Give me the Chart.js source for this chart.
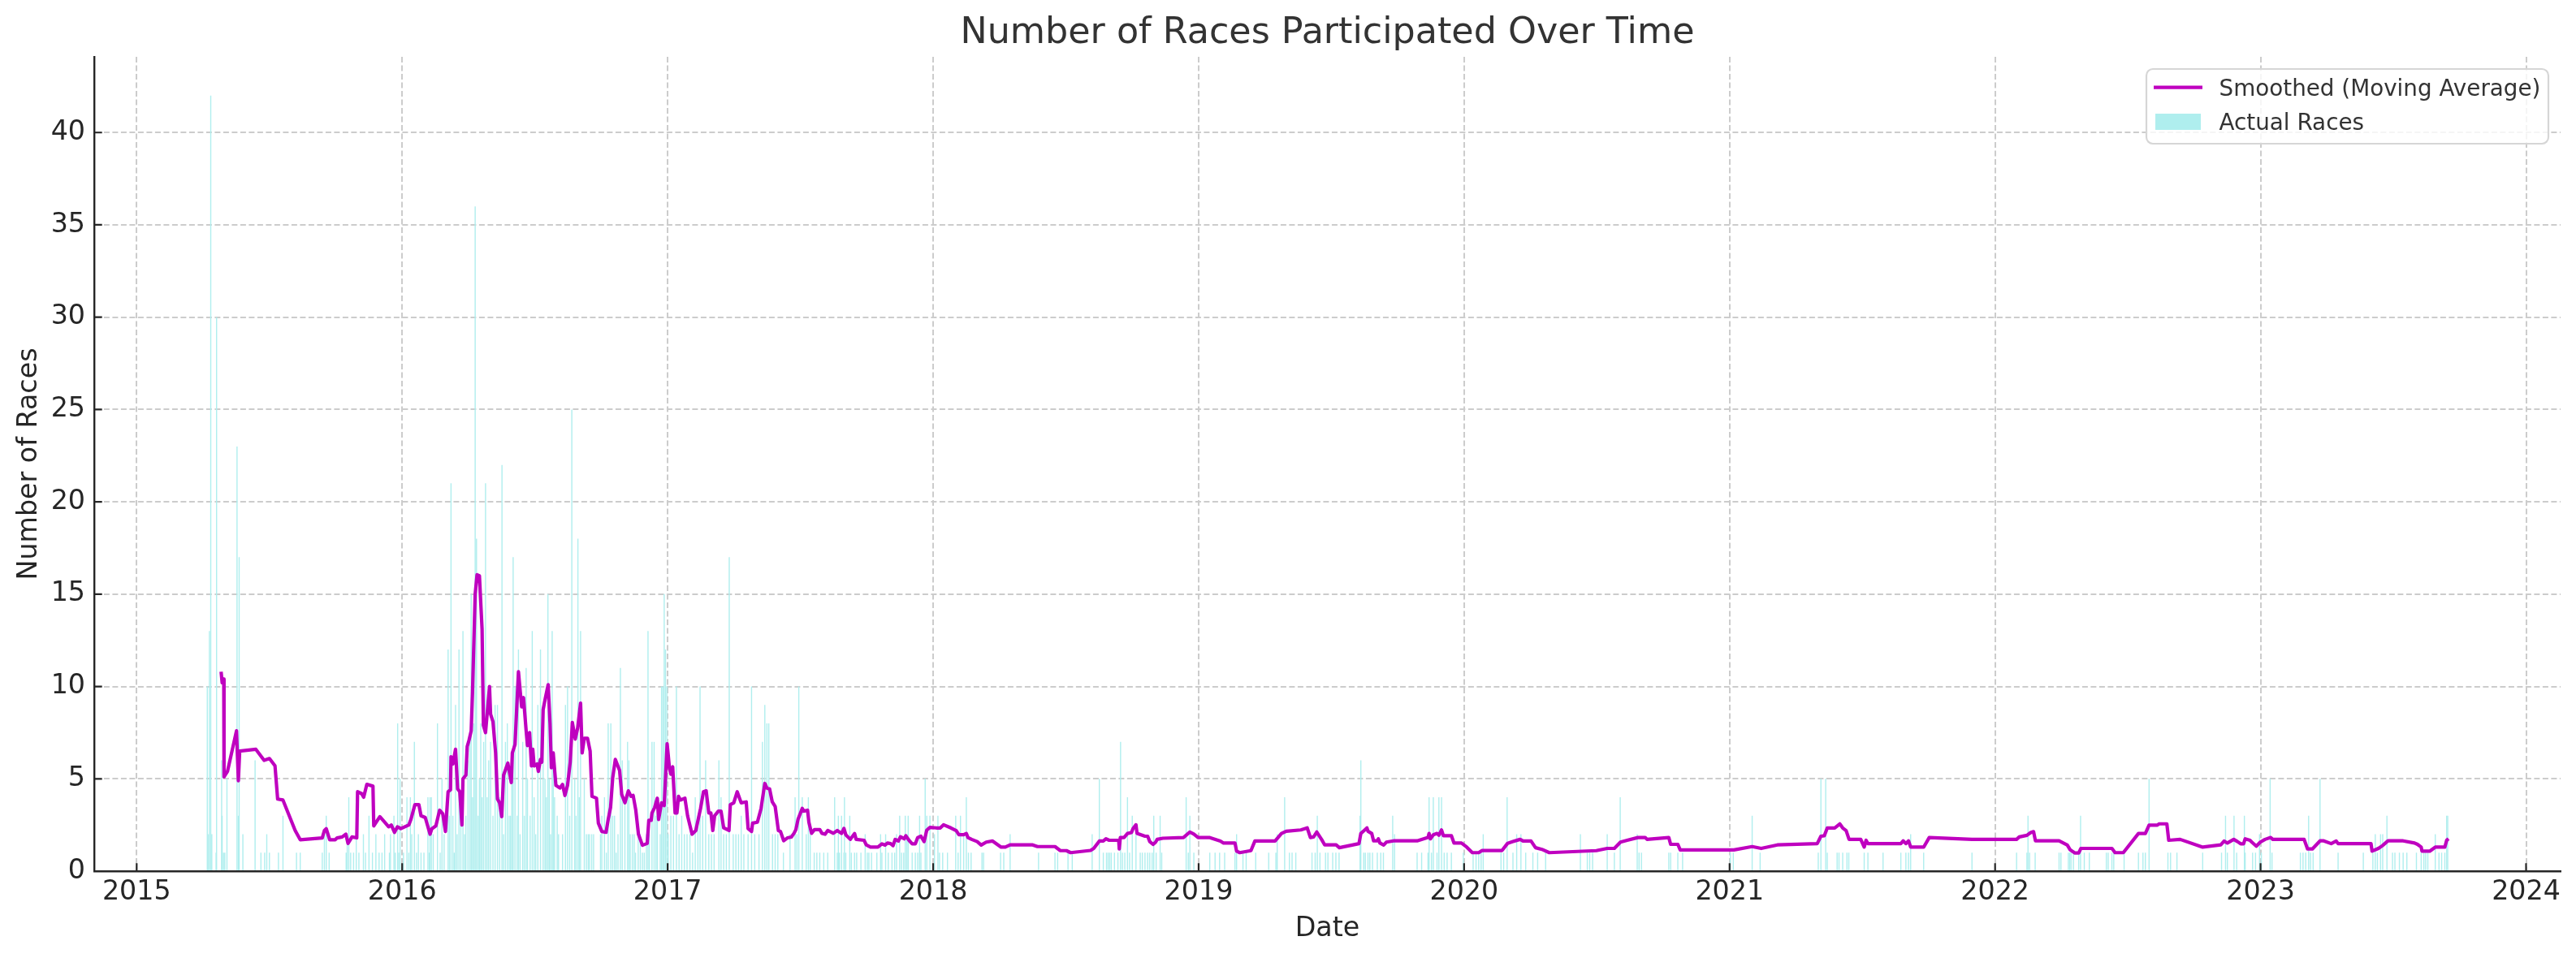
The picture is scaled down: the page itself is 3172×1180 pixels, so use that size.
<!DOCTYPE html>
<html>
<head>
<meta charset="utf-8">
<script src="https://cdn.jsdelivr.net/npm/chart.js@4.4.1/dist/chart.umd.min.js"></script>
<style>
  html, body { margin: 0; padding: 0; background: #ffffff; }
  #wrap { width: 3172px; height: 1180px; }
  canvas { display: block; }
</style>
</head>
<body>
<div id="wrap"><canvas id="c" width="3172" height="1180"></canvas></div>
<script>
// ---------------- DATA ----------------
const chartTitle = 'Number of Races Participated Over Time';
const xAxisLabel = 'Date';
const yAxisLabel = 'Number of Races';
const seriesLabels = ['Smoothed (Moving Average)', 'Actual Races'];

const xTickYears = [2015, 2016, 2017, 2018, 2019, 2020, 2021, 2022, 2023, 2024];
const yTickValues = [0, 5, 10, 15, 20, 25, 30, 35, 40];

// race days (decimal year) and number of races that day
const raceDates = [
  2015.266,2015.271,2015.274,2015.279,2015.283,2015.299,2015.301,2015.320,2015.322,2015.327,
  2015.332,2015.340,2015.378,2015.383,2015.386,2015.400,2015.446,2015.468,2015.482,2015.490,
  2015.500,2015.534,2015.551,2015.602,2015.616,2015.699,2015.707,2015.714,2015.725,2015.789,
  2015.793,2015.799,2015.806,2015.817,2015.827,2015.837,2015.854,2015.862,2015.875,2015.888,
  2015.901,2015.913,2015.924,2015.934,2015.952,2015.956,2015.969,2015.974,2015.983,2015.987,
  2015.992,2016.005,2016.018,2016.025,2016.031,2016.036,2016.046,2016.054,2016.061,2016.071,
  2016.082,2016.097,2016.102,2016.105,2016.110,2016.117,2016.133,2016.143,2016.150,2016.158,
  2016.173,2016.178,2016.184,2016.191,2016.196,2016.201,2016.207,2016.214,2016.221,2016.229,
  2016.235,2016.240,2016.248,2016.255,2016.260,2016.265,2016.270,2016.275,2016.280,2016.286,
  2016.291,2016.296,2016.301,2016.307,2016.314,2016.320,2016.326,2016.333,2016.342,2016.350,
  2016.359,2016.367,2016.376,2016.382,2016.389,2016.396,2016.403,2016.408,2016.413,2016.418,
  2016.425,2016.433,2016.438,
  2016.444,2016.454,2016.460,2016.467,2016.472,2016.482,2016.490,2016.497,2016.503,2016.511,
  2016.521,2016.531,2016.538,2016.543,2016.549,2016.554,2016.559,2016.565,2016.569,2016.574,
  2016.584,2016.589,2016.604,2016.615,2016.623,2016.631,2016.639,2016.650,2016.655,2016.662,
  2016.667,2016.672,2016.686,2016.694,2016.701,2016.706,2016.714,2016.721,2016.747,2016.752,
  2016.762,2016.769,2016.776,2016.786,2016.793,2016.800,2016.806,2016.813,2016.822,2016.829,
  2016.839,2016.849,2016.854,2016.859,2016.867,2016.874,2016.879,2016.889,2016.897,2016.905,
  2016.912,2016.920,2016.926,2016.931,2016.941,2016.949,2016.956,2016.961,2016.972,2016.977,
  2016.982,2016.987,2016.992,2016.997,2017.002,2017.012,2017.022,2017.033,2017.043,2017.053,
  2017.063,2017.073,2017.084,2017.094,2017.104,2017.114,2017.122,2017.132,2017.143,2017.155,
  2017.165,2017.175,2017.193,2017.201,2017.211,2017.221,2017.232,2017.247,2017.257,2017.267,
  2017.277,2017.287,2017.303,2017.316,2017.328,2017.344,2017.357,2017.366,2017.374,2017.381,
  2017.395,2017.405,2017.415,2017.436,2017.461,2017.480,2017.487,2017.494,2017.507,2017.522,
  2017.530,2017.537,2017.552,2017.562,2017.573,2017.588,2017.603,2017.629,2017.639,
  2017.643,2017.647,2017.655,2017.664,2017.666,2017.671,2017.686,2017.692,2017.704,2017.712,
  2017.728,2017.744,2017.752,2017.758,2017.768,2017.788,2017.802,2017.807,2017.821,2017.831,
  2017.845,2017.855,2017.862,2017.874,2017.881,2017.889,2017.895,2017.901,2017.906,2017.921,
  2017.933,2017.942,2017.949,2017.954,2017.970,2017.976,2017.988,2018.005,2018.018,2018.024,
  2018.036,2018.054,2018.085,2018.094,2018.103,2018.115,2018.125,2018.133,2018.143,2018.184,
  2018.190,2018.254,2018.266,2018.290,2018.397,2018.459,2018.469,2018.508,2018.524,2018.599,
  2018.626,2018.641,2018.653,2018.659,2018.665,2018.671,2018.683,2018.696,2018.706,2018.713,
  2018.722,2018.732,2018.740,2018.750,2018.764,2018.780,2018.788,2018.798,2018.808,2018.816,
  2018.825,2018.831,2018.840,2018.855,2018.861,2018.953,2018.961,2018.967,2018.982,2019.042,
  2019.062,2019.079,2019.098,2019.137,2019.143,2019.167,2019.179,2019.215,2019.264,2019.291,
  2019.296,2019.324,2019.342,2019.352,2019.366,2019.427,2019.439,2019.447,2019.457,2019.478,
  2019.487,2019.505,2019.517,
  2019.529,2019.608,2019.611,2019.622,2019.628,2019.638,2019.645,2019.655,2019.673,2019.686,
  2019.696,2019.731,2019.738,2019.823,2019.840,2019.864,2019.868,2019.877,2019.884,2019.898,
  2019.905,2019.915,2019.925,2019.936,2019.952,2019.997,2020.034,2020.045,2020.055,2020.064,
  2020.072,2020.139,2020.149,2020.162,2020.184,2020.198,2020.214,2020.232,2020.259,2020.277,
  2020.307,2020.438,2020.464,2020.473,2020.484,2020.539,2020.566,2020.588,2020.652,2020.659,
  2020.668,2020.771,2020.778,2020.805,2020.823,2021.003,2021.014,2021.085,2021.115,2021.334,
  2021.344,2021.362,2021.368,2021.405,2021.412,2021.426,2021.442,2021.449,2021.507,2021.521,
  2021.578,
  2021.645,2021.664,2021.674,2021.682,2021.731,2021.913,2022.081,2022.120,2022.124,2022.130,
  2022.151,2022.241,2022.248,2022.276,2022.281,2022.286,2022.295,2022.315,2022.322,2022.336,
  2022.355,2022.419,2022.426,2022.440,2022.447,2022.486,2022.540,2022.557,2022.566,2022.580,
  2022.651,2022.661,2022.685,2022.782,2022.853,2022.868,2022.875,2022.900,2022.910,2022.939,
  2022.942,2022.970,2022.981,2022.996,2023.003,2023.036,2023.043,2023.150,2023.160,2023.170,
  2023.181,2023.188,2023.198,2023.224,2023.292,2023.387,2023.423,2023.432,2023.440,2023.452,
  2023.460,2023.476,2023.497,2023.506,2023.523,2023.537,2023.551,2023.587,2023.605,2023.615,
  2023.622,2023.630,2023.658,2023.672,2023.682,2023.694,2023.701,2023.705
];
const raceCounts = [
  10,2,13,42,2,1,30,6,3,1,
  1,5,23,3,17,2,6,1,1,2,
  1,1,3,1,1,1,2,3,1,1,
  2,4,1,1,2,1,2,1,3,1,
  2,1,1,2,1,2,3,1,8,1,
  5,1,4,1,4,2,7,1,2,1,
  1,4,1,4,4,2,8,1,5,2,
  12,3,21,3,1,9,2,12,4,13,
  2,3,6,7,15,4,8,36,18,3,
  5,8,4,7,21,4,6,7,3,9,
  9,4,22,2,7,8,3,3,5,17,
  10,3,12,
  2,7,3,11,5,3,13,4,2,9,
  12,7,5,4,15,5,2,13,6,4,
  3,2,2,9,10,3,25,5,3,18,
  4,13,5,2,2,2,2,2,2,3,
  4,1,8,8,3,3,1,2,11,6,
  4,7,6,2,2,2,1,2,2,1,
  1,2,13,2,7,7,3,4,2,10,
  10,15,12,10,2,3,3,10,2,3,
  2,2,2,1,4,3,10,3,6,2,
  2,2,6,4,2,2,17,2,2,2,
  3,2,2,10,2,2,7,9,8,8,
  2,2,2,1,2,4,2,10,4,2,
  4,2,1,1,1,1,1,4,1,
  3,1,3,1,4,1,3,1,1,1,
  1,2,1,1,1,1,2,1,2,1,
  1,1,2,3,1,1,3,2,3,1,
  1,1,3,1,5,3,3,2,3,1,
  1,1,3,1,3,2,4,1,1,1,
  1,1,1,2,1,1,1,1,1,2,
  5,1,1,1,1,1,1,1,7,1,
  1,4,1,3,2,1,1,1,1,1,
  1,3,1,3,1,4,1,3,1,1,
  1,1,1,1,2,1,1,1,1,1,
  2,4,1,1,1,1,1,3,1,1,
  1,1,1,
  1,3,6,1,1,1,1,1,1,1,
  1,3,2,1,1,1,4,1,4,1,
  4,4,1,1,1,1,1,1,1,1,
  2,1,1,4,1,2,2,1,1,1,
  1,2,1,1,1,2,1,4,2,1,
  1,1,1,1,1,1,1,3,1,1,
  5,5,1,1,1,1,1,1,1,1,
  1,
  1,1,1,2,1,1,1,1,3,1,
  1,1,1,1,1,1,1,1,3,1,
  1,1,1,1,1,1,1,1,1,5,
  1,1,1,1,1,3,1,3,1,3,
  1,1,1,2,1,5,1,1,1,1,
  3,1,1,5,1,1,1,2,1,2,
  2,3,1,1,1,1,1,1,1,1,
  1,1,2,1,1,1,3,3
];

// moving-average curve (decimal year, value)
const smoothDates = [
  2015.318,2015.322,2015.328,2015.329,2015.342,2015.376,2015.383,2015.388,2015.449,2015.480,
  2015.500,2015.521,2015.531,2015.551,2015.597,2015.616,2015.699,2015.707,2015.714,2015.727,
  2015.748,2015.755,2015.774,2015.788,2015.796,2015.811,2015.829,2015.832,2015.847,2015.855,
  2015.867,2015.890,2015.893,2015.916,2015.934,2015.949,2015.959,2015.971,2015.982,2015.995,
  2016.025,2016.033,2016.048,2016.063,2016.071,2016.087,2016.105,2016.112,2016.127,2016.141,
  2016.153,2016.163,2016.173,2016.182,2016.184,2016.191,2016.201,2016.209,2016.217,2016.225,
  2016.229,2016.240,2016.245,2016.252,2016.260,2016.265,2016.275,2016.282,2016.291,2016.301,
  2016.306,2016.314,2016.329,2016.333,2016.342,2016.352,2016.359,2016.367,2016.375,2016.382,
  2016.398,2016.411,2016.415,2016.425,2016.438,
  2016.450,2016.457,2016.467,2016.472,2016.480,2016.487,2016.492,2016.497,2016.508,2016.513,
  2016.521,2016.526,2016.531,2016.539,2016.550,2016.557,2016.562,2016.569,2016.579,2016.594,
  2016.604,2016.613,2016.623,2016.633,2016.641,2016.652,2016.661,2016.672,2016.678,2016.686,
  2016.698,2016.708,2016.715,2016.732,2016.739,2016.752,2016.768,2016.776,2016.785,2016.793,
  2016.803,2016.819,2016.827,2016.839,2016.852,2016.862,2016.870,2016.880,2016.890,2016.905,
  2016.923,2016.929,2016.938,2016.941,2016.951,2016.961,2016.966,2016.977,2016.987,2016.998,
  2017.007,2017.012,2017.019,2017.028,2017.035,2017.041,2017.048,2017.065,2017.075,2017.092,
  2017.106,2017.124,2017.135,2017.145,2017.155,2017.163,2017.170,2017.177,2017.191,2017.201,
  2017.211,2017.231,2017.236,2017.249,2017.262,2017.277,2017.296,2017.303,2017.316,2017.320,
  2017.338,2017.352,2017.357,2017.366,2017.374,2017.384,2017.394,2017.405,2017.417,2017.425,
  2017.437,2017.451,2017.466,2017.476,2017.483,2017.491,2017.507,2017.512,2017.527,2017.532,
  2017.542,2017.553,2017.573,2017.581,2017.593,2017.603,2017.624,2017.639,
  2017.655,2017.664,2017.671,2017.688,2017.704,2017.710,2017.740,2017.748,2017.764,2017.792,
  2017.807,2017.819,2017.828,2017.840,2017.849,2017.857,2017.869,2017.877,2017.891,2017.897,
  2017.909,2017.921,2017.933,2017.942,2017.954,2017.966,2017.976,2017.988,2018.012,2018.027,
  2018.039,2018.067,2018.087,2018.097,2018.115,2018.125,2018.131,2018.145,2018.166,2018.181,
  2018.200,2018.224,2018.256,2018.272,2018.290,2018.375,2018.393,2018.459,2018.478,2018.502,
  2018.518,2018.593,2018.605,2018.626,2018.641,2018.651,2018.663,2018.699,2018.701,2018.705,
  2018.719,2018.732,2018.747,2018.753,2018.764,2018.768,2018.798,2018.808,2018.816,2018.828,
  2018.838,2018.844,2018.865,2018.943,2018.967,2018.982,2018.998,2019.040,2019.082,2019.094,
  2019.137,2019.143,2019.155,2019.197,2019.212,2019.288,2019.312,2019.330,2019.385,2019.409,
  2019.421,2019.433,2019.445,2019.463,2019.475,2019.518,2019.530,
  2019.604,2019.611,2019.625,2019.634,2019.638,2019.652,2019.659,2019.673,2019.677,2019.683,
  2019.697,2019.707,2019.734,2019.823,2019.864,2019.868,2019.873,2019.884,2019.898,2019.905,
  2019.915,2019.922,2019.952,2019.962,2019.990,2020.010,2020.031,2020.055,2020.068,2020.143,
  2020.164,2020.184,2020.211,2020.222,2020.252,2020.269,2020.293,2020.321,2020.498,2020.539,
  2020.566,2020.589,2020.614,2020.655,2020.682,2020.689,2020.771,2020.778,2020.805,2020.814,
  2021.016,2021.085,2021.119,2021.180,2021.330,2021.344,2021.357,2021.368,2021.396,2021.415,
  2021.426,2021.439,2021.450,2021.494,2021.507,2021.514,2021.521,
  2021.645,2021.654,2021.664,2021.674,2021.682,2021.731,2021.752,2021.913,2022.081,2022.091,
  2022.120,2022.134,2022.145,2022.152,2022.241,2022.272,2022.283,2022.301,2022.315,2022.323,
  2022.440,2022.452,2022.483,2022.540,2022.566,2022.580,2022.611,2022.618,2022.647,2022.654,
  2022.697,2022.782,2022.850,2022.863,2022.875,2022.899,2022.913,2022.925,2022.936,2022.942,
  2022.960,2022.967,2022.984,2022.999,2023.017,2023.038,2023.046,2023.164,2023.177,2023.195,
  2023.224,2023.238,2023.266,2023.285,2023.292,2023.416,2023.420,2023.444,2023.459,2023.480,
  2023.537,2023.580,2023.591,2023.605,2023.608,2023.637,2023.658,2023.694,2023.701,2023.708
];
const smoothValues = [
  10.8,10.2,10.4,5.1,5.4,7.6,4.9,6.5,6.6,6.0,
  6.1,5.7,3.9,3.85,2.2,1.7,1.8,2.2,2.3,1.7,
  1.7,1.8,1.85,2.0,1.5,1.85,1.8,4.3,4.2,4.0,
  4.7,4.6,2.45,2.95,2.65,2.4,2.5,2.1,2.4,2.3,
  2.5,2.8,3.6,3.6,3.0,2.9,2.0,2.3,2.45,3.3,
  3.1,2.15,4.3,4.4,6.2,5.8,6.6,4.45,4.3,2.5,
  5.0,5.2,6.75,7.1,7.6,9.7,15.0,16.05,16.0,13.1,
  7.9,7.5,10.0,8.5,8.1,6.4,3.9,3.7,2.95,5.2,
  5.85,4.8,6.4,6.85,10.8,
  8.9,9.4,7.6,6.8,7.5,5.7,6.6,5.7,5.8,5.4,
  6.05,5.9,8.75,9.35,10.1,8.0,5.6,6.4,4.65,4.5,
  4.7,4.1,4.65,5.9,8.05,7.15,7.75,9.1,6.4,7.2,
  7.2,6.5,4.05,3.95,2.6,2.15,2.1,2.8,3.45,5.05,
  6.05,5.45,4.15,3.7,4.35,4.05,4.1,3.3,2.0,1.4,
  1.5,2.75,2.75,3.15,3.45,3.95,2.8,3.7,3.55,6.9,
  5.55,5.25,5.65,3.15,3.15,4.05,3.85,3.95,3.0,2.0,
  2.2,3.4,4.3,4.35,3.15,3.15,2.2,3.0,3.25,3.25,
  2.35,2.2,3.6,3.7,4.3,3.7,3.75,2.3,2.15,2.6,
  2.65,3.4,3.9,4.75,4.5,4.45,3.75,3.5,2.2,2.15,
  1.65,1.8,1.85,2.05,2.25,2.8,3.4,3.25,3.3,2.65,
  2.05,2.25,2.25,2.05,2.0,2.2,2.05,2.2,
  2.04,2.31,1.97,1.72,2.04,1.72,1.67,1.42,1.30,1.30,
  1.48,1.41,1.52,1.49,1.38,1.72,1.63,1.86,1.75,1.92,
  1.67,1.48,1.48,1.82,1.89,1.60,2.22,2.37,2.34,2.34,
  2.51,2.34,2.19,1.97,1.97,2.04,1.82,1.72,1.60,1.41,
  1.57,1.63,1.30,1.30,1.42,1.42,1.33,1.33,1.12,1.11,
  1.00,1.12,1.23,1.63,1.63,1.75,1.67,1.67,1.20,1.82,
  1.82,2.04,2.09,2.31,2.51,2.04,1.89,1.89,1.60,1.45,
  1.57,1.72,1.78,1.82,2.12,2.01,1.82,1.82,1.63,1.52,
  1.52,1.08,1.00,1.11,1.63,1.63,2.04,2.16,2.23,2.34,
  1.82,1.85,2.12,1.72,1.42,1.42,1.27,
  1.49,2.04,2.22,2.34,2.16,2.04,1.64,1.64,1.75,1.52,
  1.41,1.57,1.64,1.64,1.82,2.04,1.75,1.97,2.04,1.94,
  2.23,1.92,1.92,1.52,1.52,1.30,1.00,1.00,1.12,1.12,
  1.51,1.60,1.72,1.63,1.63,1.27,1.18,1.00,1.11,1.23,
  1.23,1.57,1.67,1.82,1.82,1.72,1.82,1.45,1.45,1.15,
  1.15,1.33,1.23,1.42,1.49,1.89,1.92,2.34,2.34,2.56,
  2.34,2.19,1.72,1.72,1.30,1.67,1.49,
  1.49,1.64,1.49,1.64,1.30,1.30,1.82,1.72,1.72,1.85,
  1.94,2.09,2.14,1.64,1.64,1.41,1.15,0.98,0.98,1.23,
  1.23,1.00,1.00,2.04,2.04,2.49,2.49,2.56,2.56,1.67,
  1.72,1.30,1.42,1.63,1.52,1.72,1.60,1.48,1.48,1.75,
  1.67,1.57,1.35,1.57,1.72,1.82,1.72,1.72,1.20,1.20,
  1.64,1.64,1.49,1.63,1.49,1.49,1.08,1.23,1.38,1.64,
  1.64,1.52,1.45,1.30,1.08,1.08,1.30,1.30,1.67,1.75
];

if (raceDates.length !== raceCounts.length) console.error('race arrays differ', raceDates.length, raceCounts.length);
if (smoothDates.length !== smoothValues.length) console.error('smooth arrays differ', smoothDates.length, smoothValues.length);

// ---------------- STYLE ----------------
const LINE_COLOR = '#bf00bf';
const BAR_COLOR = '#afeeee';
const AXIS_COLOR = '#262626';
const TEXT_COLOR = '#262626';
const GRID_COLOR = '#cccccc';
const FONT = 'DejaVu Sans';

Chart.defaults.font.family = FONT;
Chart.defaults.color = TEXT_COLOR;

// inward tick marks (matplotlib style)
const inwardTicks = {
  id: 'inwardTicks',
  afterDatasetsDraw(chart) {
    const { ctx, chartArea, scales } = chart;
    const len = 9.7;
    ctx.save();
    ctx.strokeStyle = AXIS_COLOR;
    ctx.lineWidth = 2.2;
    ctx.beginPath();
    scales.x.ticks.forEach(t => {
      const px = scales.x.getPixelForValue(t.value);
      ctx.moveTo(px, chartArea.bottom);
      ctx.lineTo(px, chartArea.bottom - len);
    });
    scales.y.ticks.forEach(t => {
      const py = scales.y.getPixelForValue(t.value);
      ctx.moveTo(chartArea.left, py);
      ctx.lineTo(chartArea.left + len, py);
    });
    ctx.stroke();
    ctx.restore();
  }
};

// framed legend in the upper-right corner of the plot area
const framedLegend = {
  id: 'framedLegend',
  afterDraw(chart) {
    const { ctx, chartArea } = chart;
    const w = 495, h = 92;
    const right = chartArea.right - 15, top = chartArea.top + 15;
    const left = right - w;
    ctx.save();
    ctx.beginPath();
    ctx.roundRect(left, top, w, h, 8);
    ctx.fillStyle = 'rgba(255,255,255,0.8)';
    ctx.fill();
    ctx.lineWidth = 2.2;
    ctx.strokeStyle = '#d6d6d6';
    ctx.stroke();

    const ds = chart.data.datasets;
    // line handle
    ctx.beginPath();
    ctx.strokeStyle = ds[0].borderColor;
    ctx.lineWidth = ds[0].borderWidth;
    ctx.moveTo(left + 9, top + 22.7);
    ctx.lineTo(left + 69, top + 22.7);
    ctx.stroke();
    // patch handle
    ctx.fillStyle = ds[1].backgroundColor;
    ctx.fillRect(left + 11, top + 55, 56, 20);

    ctx.font = '27.8px "' + FONT + '"';
    ctx.fillStyle = '#333333';
    ctx.textBaseline = 'alphabetic';
    ctx.textAlign = 'left';
    ctx.fillText(ds[0].label, left + 89.5, top + 33.3);
    ctx.fillText(ds[1].label, left + 89.5, top + 75);
    ctx.restore();
  }
};

const ctx = document.getElementById('c').getContext('2d');
new Chart(ctx, {
  type: 'bar',
  data: {
    datasets: [
      {
        type: 'line',
        label: seriesLabels[0],
        data: smoothDates.map((d, i) => ({ x: d, y: smoothValues[i] })),
        borderColor: LINE_COLOR,
        backgroundColor: LINE_COLOR,
        borderWidth: 4.2,
        pointRadius: 0,
        pointHoverRadius: 0,
        tension: 0,
        fill: false,
        borderJoinStyle: 'round',
        order: 0
      },
      {
        type: 'bar',
        label: seriesLabels[1],
        data: raceDates.map((d, i) => ({ x: d, y: raceCounts[i] })),
        backgroundColor: BAR_COLOR,
        borderWidth: 0,
        barThickness: 1.4,
        inflateAmount: 0,
        order: 1
      }
    ]
  },
  options: {
    responsive: false,
    animation: false,
    devicePixelRatio: 1,
    events: [],
    layout: { padding: { left: 0, right: 19, top: 0, bottom: 0 } },
    plugins: {
      legend: { display: false },
      tooltip: { enabled: false },
      title: {
        display: true,
        fullSize: false,
        text: chartTitle,
        color: '#333333',
        font: { family: FONT, size: 44.4, weight: 'normal', lineHeight: 1.2 },
        padding: { top: 15, bottom: 1.7 }
      }
    },
    scales: {
      x: {
        type: 'linear',
        min: 2014.84,
        max: 2024.13,
        offset: false,
        afterBuildTicks: (scale) => { scale.ticks = xTickYears.map(v => ({ value: v })); },
        afterFit: (scale) => { scale.height = 107; },
        ticks: {
          callback: (v) => String(v),
          font: { size: 33.3, lineHeight: 1.2 },
          color: TEXT_COLOR,
          padding: 6.5,
          maxRotation: 0,
          autoSkip: false
        },
        grid: { color: GRID_COLOR, lineWidth: 2, drawTicks: false, offset: false },
        border: { display: true, color: AXIS_COLOR, width: 2.4, dash: [7, 3.5] },
        title: {
          display: true,
          text: xAxisLabel,
          color: TEXT_COLOR,
          font: { size: 33.3, lineHeight: 1.2 },
          padding: { top: 0, bottom: 15.5 }
        }
      },
      y: {
        type: 'linear',
        min: 0,
        max: 44.1,
        afterBuildTicks: (scale) => { scale.ticks = yTickValues.map(v => ({ value: v })); },
        afterFit: (scale) => { scale.width = 116; },
        ticks: {
          callback: (v) => String(v),
          font: { size: 33.3, lineHeight: 1.2 },
          color: TEXT_COLOR,
          padding: 11
        },
        grid: { color: GRID_COLOR, lineWidth: 2, drawTicks: false },
        border: { display: true, color: AXIS_COLOR, width: 2.4, dash: [7, 3.5] },
        title: {
          display: true,
          text: yAxisLabel,
          color: TEXT_COLOR,
          font: { size: 33.3, lineHeight: 1.2 },
          padding: { top: 16.3, bottom: 0 }
        }
      }
    }
  },
  plugins: [inwardTicks, framedLegend]
});
</script>
</body>
</html>
